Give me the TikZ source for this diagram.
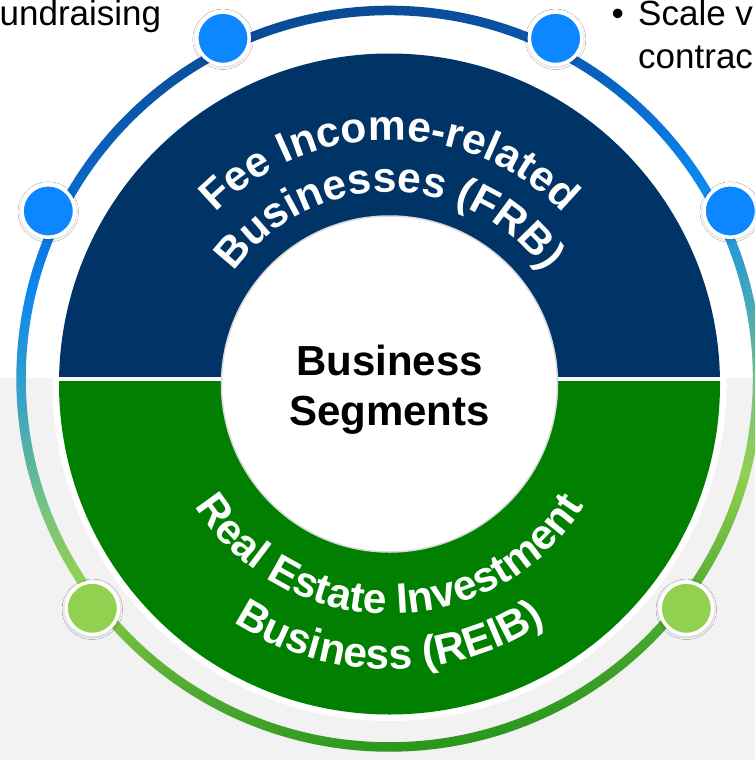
\documentclass[tikz,border=0pt]{standalone}
\usepackage{fontspec}
\setmainfont{Liberation Sans}
\usetikzlibrary{calc,decorations.text,shadows.blur}
\definecolor{frbblue}{HTML}{003366}
\definecolor{reibgreen}{HTML}{007F00}
\definecolor{bggray}{HTML}{F2F2F2}
\definecolor{dotblue}{HTML}{0D87FF}
\definecolor{dotgreen}{HTML}{92D050}
\definecolor{rca}{HTML}{2A961C}
\definecolor{rcb}{HTML}{5AB038}
\definecolor{rcc}{HTML}{92D050}
\definecolor{rcd}{HTML}{7CC57A}
\definecolor{rce}{HTML}{38A2C6}
\definecolor{rcf}{HTML}{0A86F2}
\definecolor{rcg}{HTML}{0A62BE}
\definecolor{rch}{HTML}{0A4A94}
\pgfdeclareverticalshading{ringshade}{100bp}{color(0bp)=(rca); color(25bp)=(rca); color(33.2bp)=(rcb); color(39.9bp)=(rcc); color(44.6bp)=(rcd); color(52.7bp)=(rce); color(60.1bp)=(rcf); color(67.5bp)=(rcg); color(75bp)=(rch); color(100bp)=(rch)}
\newcommand\arcfnt{\fontsize{42.5}{51}\selectfont\bfseries}
\tikzset{
  dotbase/.style={circle, draw=white, line width=3.5pt, minimum size=52.5pt, inner sep=0pt,
    blur shadow={shadow xshift=0pt, shadow yshift=-1pt, shadow blur radius=4pt, shadow opacity=35}},
  dotb/.style={dotbase, fill=dotblue},
  dotg/.style={dotbase, fill=dotgreen},
  segfont/.style={font=\fontsize{42}{50.7}\selectfont\bfseries, inner sep=0pt, anchor=base},
  sidefont/.style={font=\fontsize{35}{42}\selectfont, inner sep=0pt, anchor=base west},
}
\begin{document}
\begin{tikzpicture}[x=1pt, y=1pt]
\useasboundingbox (0,0) rectangle (755,-760);
\clip (0,0) rectangle (755,-760);
\fill[white] (0,0) rectangle (755,-760);
\fill[bggray] (0,-378) rectangle (755,-760);
\coordinate (C) at (389.5,-384);
\coordinate (R0) at (389.3,-378.7);
% outer gradient ring
\shade[shading=ringshade, shading angle=9.4, even odd rule] (R0) circle[radius=373] (R0) circle[radius=363.5];
% pie
\fill[white] (C) circle[radius=337];
\begin{scope}
  \clip (0,-376) rectangle (755,0);
  \fill[frbblue] (C) circle[radius=330.5];
\end{scope}
\begin{scope}
  \clip (0,-381) rectangle (755,-760);
  \fill[reibgreen] (C) circle[radius=330.5];
\end{scope}
% hub
\node[circle, fill=white, draw=black!15, line width=1.5pt, minimum size=336pt, inner sep=0pt] (hub) at (C) {};
\node[segfont] (seg1) at (389.5,-375) {Business};
\node[segfont] (seg2) at (389.5,-425.7) {Segments};
% curved texts
\path[decorate, decoration={text along path, text color=white, text align=center, text={|\arcfnt|Fee Income-related}}]
  ($(C)+(175:244)$) arc[start angle=175, end angle=5, radius=244];
\path[decorate, decoration={text along path, text color=white, text align=center, text={|\arcfnt|Businesses (FRB)}}]
  ($(C)+(175:192)$) arc[start angle=175, end angle=5, radius=192];
\path[decorate, decoration={text along path, text color=white, text align=center, text={|\arcfnt|Real Estate Investment}}]
  ($(C)+(185:230)$) arc[start angle=185, end angle=355, radius=230];
\path[decorate, decoration={text along path, text color=white, text align=center, text={|\arcfnt|Business (REIB)}}]
  ($(C)+(185:285)$) arc[start angle=185, end angle=355, radius=285];
% dots
\node[dotb] (d1) at (223,-38.3) {};
\node[dotb] (d2) at (555.6,-38.3) {};
\node[dotb] (d3) at (48.3,-211) {};
\node[dotb] (d4) at (730.3,-211) {};
\node[dotg] (d5) at (92.3,-608.3) {};
\node[dotg] (d6) at (686.3,-608.3) {};
% side texts
\node[sidefont] (t1) at (-0.5,-25.5) {undraising};
\node[sidefont] (b1) at (611.5,-26) {•};
\node[sidefont] (t2) at (638,-26) {Scale v};
\node[sidefont] (t3) at (638,-68) {contrac};
\end{tikzpicture}
\end{document}
